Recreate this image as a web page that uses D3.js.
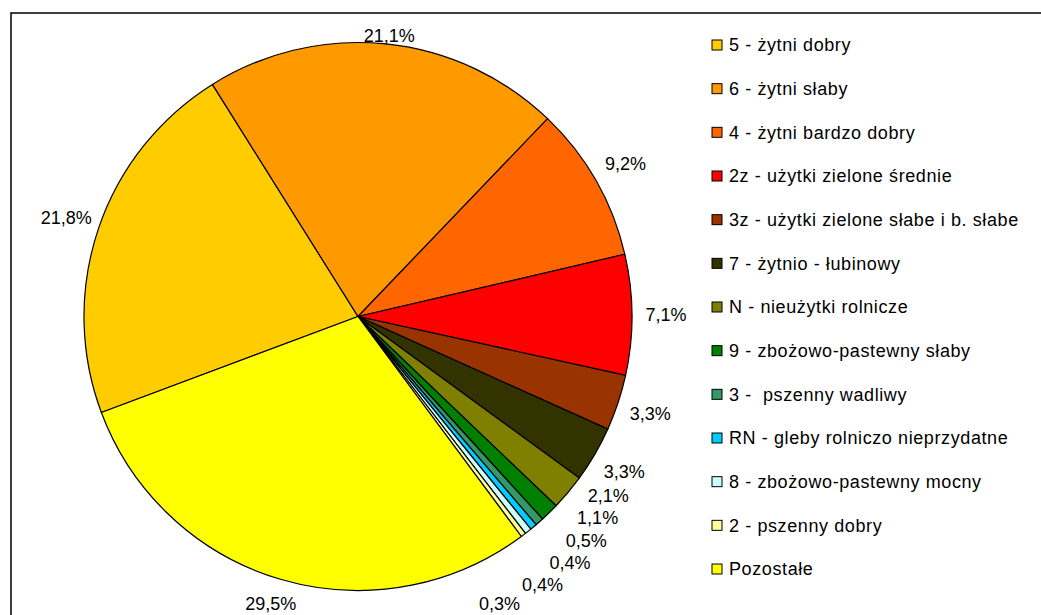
<!DOCTYPE html>
<html>
<head>
<meta charset="utf-8">
<script src="https://cdn.jsdelivr.net/npm/d3@7"></script>
<style>
  body { margin: 0; background: #fff; }
  text { font-family: "Liberation Sans", Arial, sans-serif; fill: #000; white-space: pre; }
</style>
</head>
<body>
<svg width="1041" height="615"></svg>
<script>
const categories = [
    "5 - żytni dobry",
    "6 - żytni słaby",
    "4 - żytni bardzo dobry",
    "2z - użytki zielone średnie",
    "3z - użytki zielone słabe i b. słabe",
    "7 - żytnio - łubinowy",
    "N - nieużytki rolnicze",
    "9 - zbożowo-pastewny słaby",
    "3 -  pszenny wadliwy",
    "RN - gleby rolniczo nieprzydatne",
    "8 - zbożowo-pastewny mocny",
    "2 - pszenny dobry",
    "Pozostałe"
];
const shares = [21.8, 21.1, 9.2, 7.1, 3.3, 3.3, 2.1, 1.1, 0.5, 0.4, 0.4, 0.3, 29.5];
const colors = ["#FFCC00", "#FF9900", "#FF6600", "#FF0000", "#993300", "#333300", "#808000",
    "#008000", "#339966", "#00CCFF", "#CCFFFF", "#FFFF99", "#FFFF00"];

const svg = d3.select("svg");

// chart frame (right and bottom edge fall outside the picture)
svg.append("rect")
    .attr("x", 11).attr("y", 13)
    .attr("width", 1100).attr("height", 700)
    .attr("fill", "#fff")
    .attr("stroke", "#000")
    .attr("stroke-width", 1.5);

const cx = 358, cy = 316.5, radius = 274, labelRadius = 308;
const startAngle = 249.5 * Math.PI / 180;

var items = categories.map((c, i) => ({ name: c, value: shares[i], color: colors[i] }));

var pie = d3.pie()
    .sort(null)
    .value(d => d.value)
    .startAngle(startAngle)
    .endAngle(startAngle + 2 * Math.PI);
var arc = d3.arc().innerRadius(0).outerRadius(radius);

var slices = pie(items);

var g = svg.append("g").attr("transform", `translate(${cx},${cy})`);

g.selectAll("path")
    .data(slices)
    .enter()
    .append("path")
    .attr("d", arc)
    .attr("fill", d => d.data.color)
    .attr("stroke", "#000")
    .attr("stroke-width", 1.2)
    .attr("stroke-linejoin", "round");

// percentage labels
var fmt = v => d3.format(".1f")(v).replace(".", ",") + "%";

var labels = g.selectAll("text.pct")
    .data(slices)
    .enter()
    .append("text")
    .classed("pct", true)
    .attr("font-size", 18)
    .attr("text-anchor", "middle")
    .attr("dy", "0.35em")
    .text(d => fmt(d.data.value));

const topLimit = 36 - cy, bottomLimit = 604 - cy;

var boxes = [];
labels.each(function (d) {
    boxes.push({ a: (d.startAngle + d.endAngle) / 2, r: labelRadius, w: this.getComputedTextLength() + 2, h: 22 });
});

function place(b) {
    b.x = b.r * Math.sin(b.a);
    b.y = Math.min(bottomLimit, Math.max(topLimit, -b.r * Math.cos(b.a)));
}
function overlaps(p, q) {
    return Math.abs(p.x - q.x) < (p.w + q.w) / 2 && Math.abs(p.y - q.y) < (p.h + q.h) / 2;
}

// spread crowded neighbours apart along the circle, nudging them outwards a little
boxes.forEach(place);
var step = 0.1 * Math.PI / 180;
for (let it = 0; it < 2000; it++) {
    var moved = false;
    for (let i = 0; i < boxes.length - 1; i++) {
        if (overlaps(boxes[i], boxes[i + 1])) {
            boxes[i].a -= step;
            boxes[i + 1].a += step;
            boxes[i + 1].r += 0.12;
            place(boxes[i]);
            place(boxes[i + 1]);
            moved = true;
        }
    }
    if (!moved) break;
}

labels
    .attr("x", (d, i) => boxes[i].x)
    .attr("y", (d, i) => boxes[i].y);

// legend
var legendY = d3.scalePoint()
    .domain(categories)
    .range([45, 569]);

var legend = svg.append("g");
var rows = legend.selectAll("g")
    .data(items)
    .enter()
    .append("g")
    .attr("transform", d => `translate(712,${legendY(d.name)})`);

rows.append("rect")
    .attr("x", 0)
    .attr("y", -5)
    .attr("width", 10)
    .attr("height", 10)
    .attr("fill", d => d.color)
    .attr("stroke", "#000")
    .attr("stroke-width", 1);

rows.append("text")
    .attr("x", 17)
    .attr("dy", "0.35em")
    .attr("font-size", 18)
    .attr("letter-spacing", 0.6)
    .text(d => d.name);
</script>
</body>
</html>
